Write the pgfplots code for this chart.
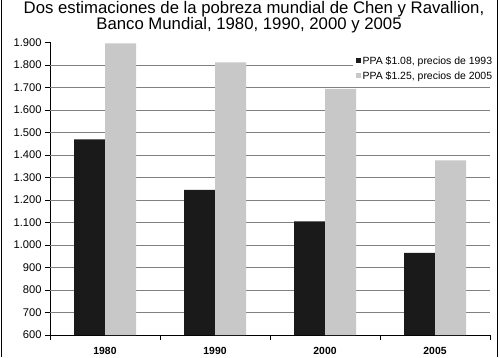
\documentclass[border=0pt]{standalone}
\usepackage{fontspec}
\setmainfont{Liberation Sans}
\usepackage{pgfplots}
\pgfplotsset{compat=1.18}
\definecolor{barblack}{HTML}{1A1A1A}
\definecolor{bargray}{HTML}{C8C8C8}
\definecolor{gridgray}{HTML}{808080}
\begin{document}
\begin{tikzpicture}[x=1bp,y=1bp]
\useasboundingbox (0,0) rectangle (500,357);
\draw[line width=1.5bp] (1.5,0) -- (1.5,357);
\draw[line width=1.5bp] (497.5,0) -- (497.5,357);
\node[anchor=base, font=\fontsize{16.8}{16.5}\selectfont, inner sep=0pt] at (254,343.5) {Dos estimaciones de la pobreza mundial de Chen y Ravallion,};
\node[anchor=base, font=\fontsize{16.8}{16.5}\selectfont, inner sep=0pt] at (249,327.5) {Banco Mundial, 1980, 1990, 2000 y 2005};
\begin{axis}[
  at={(50bp,22bp)}, anchor=south west,
  scale only axis, width=440bp, height=292.5bp,
  xmin=-0.5, xmax=3.5, ymin=600, ymax=1900,
  axis x line*=bottom, axis y line*=left,
  axis line style={black, line width=0.8bp, -},
  ybar=0pt, bar width=31bp,
  xtick={-0.5,0.5,1.5,2.5,3.5}, xticklabels={},
  extra x ticks={0,1,2,3},
  extra x tick labels={1980,1990,2000,2005},
  extra x tick style={major tick length=0pt, xticklabel style={anchor=base, yshift=-19.5bp, font=\fontsize{10.4}{12}\selectfont\bfseries}},
  ytick={600,700,...,1900},
  yticklabel style={font=\fontsize{11.2}{13}\selectfont},
  extra y ticks={700,800,...,1800},
  extra y tick labels={},
  extra y tick style={grid=major, major tick length=0pt, major grid style={gridgray, line width=0.9bp}},
  tick align=outside, major tick length=5bp,
  tick style={black, line width=0.8bp},
  /pgf/number format/.cd, 1000 sep={.}, assume math mode=true,
  /pgfplots/.cd,
  legend style={draw=none, fill=white, at={(0.6885,0.9675)}, anchor=north west,
    font=\fontsize{10.5}{12}\selectfont,
    nodes={text height=8bp, text depth=2.5bp, inner ysep=2.25bp, inner xsep=1.5bp},
    row sep=0pt},
  legend cell align=left,
  legend image code/.code={\fill[#1] (0bp,-1bp) rectangle (5bp,4bp);},
]
\addplot[fill=barblack, draw=none] coordinates {(0,1470) (1,1245) (2,1105) (3,965)};
\addlegendentry{PPA \$1.08, precios de 1993}
\addplot[fill=bargray, draw=none] coordinates {(0,1896) (1,1812) (2,1694) (3,1376)};
\addlegendentry{PPA \$1.25, precios de 2005}
\end{axis}
\end{tikzpicture}
\end{document}
